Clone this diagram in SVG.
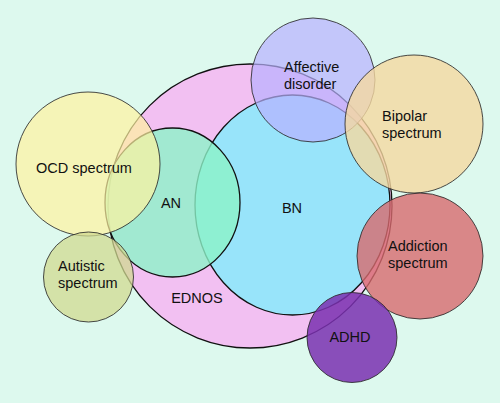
<svg xmlns="http://www.w3.org/2000/svg" width="500" height="403" viewBox="0 0 500 403">
<style>
text{font-family:"Liberation Sans",Arial,sans-serif;font-size:14.5px;fill:#111}
.c{text-anchor:middle}
.thin{stroke:#2a2a2a;stroke-width:1;stroke-opacity:0.85}
.bold{stroke:#111;stroke-width:1.3}
</style>
<rect width="500" height="403" fill="#ddf9ee"/>
<g id="EDNOS">
<circle cx="250" cy="206" r="142" fill="#f2c0f2" class="bold"/>
<text class="c" x="197" y="303">EDNOS</text>
</g>
<g id="BN">
<ellipse cx="292.5" cy="205" rx="97.5" ry="110" fill="#98e4fa" class="bold"/>
<text class="c" x="292" y="213">BN</text>
</g>
<g id="AN">
<ellipse cx="172.5" cy="202.5" rx="67.5" ry="74.5" fill="#8cf2c8" fill-opacity="0.8" class="bold"/>
<text class="c" x="171" y="208">AN</text>
</g>
<g id="OCD">
<circle cx="88" cy="164" r="72" fill="#fff2a0" fill-opacity="0.7" class="thin"/>
<text class="c" x="84" y="173">OCD spectrum</text>
</g>
<g id="Autistic">
<circle cx="88.5" cy="277" r="45" fill="#d0da90" fill-opacity="0.75" class="thin"/>
<text x="58" y="271">Autistic</text>
<text x="58" y="288">spectrum</text>
</g>
<g id="Affective">
<circle cx="313" cy="80" r="62" fill="#b8b0ff" fill-opacity="0.7" class="thin"/>
<text x="284" y="72">Affective</text>
<text x="284" y="89">disorder</text>
</g>
<g id="Bipolar">
<circle cx="414" cy="124" r="69" fill="#f5d8a0" fill-opacity="0.8" class="thin"/>
<text x="382" y="121">Bipolar</text>
<text x="382" y="138">spectrum</text>
</g>
<g id="Addiction">
<circle cx="420" cy="256" r="63" fill="#d86a6e" fill-opacity="0.8" class="thin"/>
<text x="388" y="251">Addiction</text>
<text x="388" y="268">spectrum</text>
</g>
<g id="ADHD">
<circle cx="352" cy="337.5" r="45" fill="#7a30b0" fill-opacity="0.85" class="thin"/>
<text class="c" x="350" y="342">ADHD</text>
</g>
<g id="connectors"/>
</svg>
